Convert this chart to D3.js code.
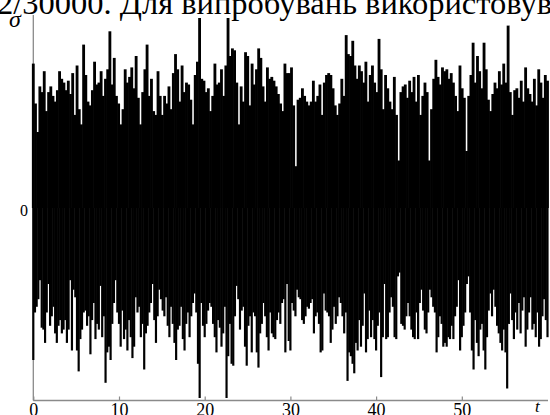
<!DOCTYPE html>
<html>
<head>
<meta charset="utf-8">
<script src="https://cdn.jsdelivr.net/npm/d3@7"></script>
<style>
  html, body { margin: 0; padding: 0; background: #fff; }
  svg { display: block; }
</style>
</head>
<body>
<svg id="chart" width="550" height="415"></svg>
<script>
// ---- data ----
const headerText = "2/30000. Для випробувань використовув";
const tMax = 60;
const xTickValues = [0, 10, 20, 30, 40, 50];
const yTickValues = [0];
const xLabel = "t";
const yLabel = "σ";

// upper envelope of the signal (positive peaks), evenly spaced over t = 0..60
const upperPeaks = [
  0.76,0.55,0.40,0.64,0.61,0.72,0.51,0.61,0.64,0.59,0.56,0.62,0.72,0.68,0.66,0.62,0.67,0.60,0.71,0.49,
  0.75,0.52,0.44,0.86,0.70,0.56,0.54,0.62,0.77,0.65,0.66,0.72,0.59,0.68,0.73,0.93,0.65,0.79,0.59,0.55,
  0.44,0.52,0.73,0.66,0.69,0.74,0.63,0.80,0.58,0.44,0.61,0.73,0.86,0.59,0.68,0.51,0.49,0.72,0.59,0.49,
  0.59,0.55,0.64,0.52,0.71,0.81,0.73,0.56,0.75,0.61,0.66,0.65,0.57,0.44,0.70,0.77,1.00,
  0.68,0.67,0.61,0.63,0.51,0.59,0.76,0.65,0.66,0.73,0.59,0.75,1.00,0.80,0.84,0.83,0.66,0.44,0.64,0.56,
  0.82,0.80,0.54,0.76,0.65,0.73,0.84,0.79,0.64,0.56,0.74,0.68,0.69,0.67,0.64,0.60,0.55,0.51,0.76,0.71,
  0.71,0.74,0.54,0.22,0.57,0.58,0.63,0.59,0.56,0.54,0.56,0.67,0.56,0.59,0.65,0.49,0.66,0.70,0.71,0.70,
  0.63,0.54,0.49,0.55,0.68,0.59,0.91,0.81,0.80,0.88,0.75,0.68,0.75,0.72,0.66,0.77,0.56,0.70,
  0.75,0.66,0.61,0.89,0.73,0.52,0.70,0.63,0.56,0.52,0.69,0.49,0.25,0.61,0.64,0.65,0.58,0.67,0.61,0.69,
  0.56,0.70,0.49,0.59,0.66,0.61,0.25,0.52,0.68,0.78,0.69,0.65,0.74,0.72,0.73,0.68,0.71,0.66,0.59,0.51,
  0.75,0.63,0.58,0.30,0.59,0.70,0.87,0.66,0.80,0.72,0.63,0.87,0.73,0.57,0.51,0.60,0.66,0.63,0.72,0.65,
  0.76,0.66,0.96,0.61,0.49,0.62,0.63,0.58,0.67,0.56,0.74,0.63,0.60,0.56,0.68,0.54,0.73,0.66,0.58,0.70,0.67
];

// lower envelope of the signal (negative peaks), evenly spaced over t = 0..60
const lowerPeaks = [
  -0.80,-0.55,-0.52,-0.48,-0.38,-0.63,-0.64,-0.71,-0.55,-0.40,-0.62,-0.57,-0.52,-0.66,-0.71,-0.62,-0.59,-0.66,-0.64,-0.59,
  -0.71,-0.64,-0.38,-0.75,-0.43,-0.47,-0.75,-0.86,-0.69,-0.64,-0.55,-0.54,-0.62,-0.57,-0.77,-0.59,-0.50,-0.69,-0.61,-0.64,
  -0.41,-0.68,-0.57,-0.92,-0.76,-0.73,-0.80,-0.61,-0.50,-0.38,-0.55,-0.61,-0.73,-0.54,-0.69,-0.64,-0.75,-0.59,-0.68,-0.79,
  -0.73,-0.47,-0.55,-0.52,-0.68,-0.61,-0.85,-0.66,-0.62,-0.55,-0.50,-0.40,-0.59,-0.71,-0.57,-0.43,-0.48,-0.54,-0.57,-0.47,
  -0.62,-0.68,-0.52,-0.61,-0.71,-0.80,-0.64,-0.62,-0.52,-0.69,-0.75,-0.61,-0.55,-0.68,-0.57,-0.50,-0.45,-0.55,-0.82,-1.00,
  -0.50,-0.62,-0.68,-0.61,-0.54,-0.50,-0.52,-0.61,-0.68,-0.76,-0.59,-0.63,-0.73,-0.66,-0.52,-1.00,-0.78,-0.61,-0.82,-0.83,
  -0.57,-0.41,-0.48,-0.64,-0.54,-0.52,-0.73,-0.83,-0.62,-0.57,-0.76,-0.55,-0.57,-0.76,-0.84,-0.66,-0.61,-0.50,-0.57,-0.68,
  -0.75,-0.55,-0.66,-0.68,-0.69,-0.59,-0.55,-0.61,-0.50,-0.48,-0.76,-0.40,-0.70,-0.75,-0.50,-0.54,-0.57,-0.43,-0.47,-0.48,
  -0.59,-0.61,-0.57,-0.52,-0.53,-0.50,-0.48,-0.66,-0.57,-0.55,-0.61,-0.76,-0.75,-0.45,-0.54,-0.55,-0.57,-0.71,-0.64,-0.52,
  -0.61,-0.57,-0.47,-0.50,-0.57,-0.66,-0.55,-0.91,-0.76,-0.78,-0.82,-0.87,-0.71,-0.75,-0.59,-0.73,-0.62,-0.45,-0.76,-0.69,
  -0.54,-0.68,-0.59,
  -0.69,-0.75,-0.62,-0.55,-0.89,-0.68,-0.40,-0.69,-0.68,-0.55,-0.47,-0.52,-0.68,-0.69,-0.36,-0.34,-0.61,-0.62,-0.64,-0.57,
  -0.50,-0.57,-0.64,-0.68,-0.69,-0.55,-0.69,-0.50,-0.43,-0.54,-0.64,-0.66,-0.55,-0.43,-0.47,-0.52,-0.55,-0.76,-0.68,-0.57,
  -0.61,-0.73,-0.71,-0.73,-0.68,-0.69,-0.62,-0.69,-0.57,-0.52,-0.38,-0.75,-0.68,-0.62,-0.55,-0.40,-0.36,-0.55,-0.75,-0.85,
  -0.59,-0.71,-0.78,-0.64,-0.61,-0.75,-0.85,-0.68,-0.54,-0.45,-0.57,-0.43,-0.52,-0.62,-0.66,-0.71,-0.75,-0.64,-0.76,-0.95,
  -0.61,-0.45,-0.59,-0.69,-0.55,-0.64,-0.50,-0.66,-0.54,-0.47,-0.73,-0.64,-0.55,-0.47,-0.64,-0.61,-0.68,-0.55,-0.73,-0.69,
  -0.57,-0.48,-0.59,-0.68
];

// ---- drawing ----
const svg = d3.select("#chart");
const serif = "'Liberation Serif', 'Times New Roman', 'DejaVu Serif', serif";

const x = d3.scaleLinear().domain([0, tMax]).range([33.3, 547.5]);
const y = d3.scaleLinear().domain([-1, 1]).range([398, 18]);

// header text (cut off at top of picture)
svg.append("text")
  .attr("x", -3).attr("y", 14)
  .style("font-family", serif).style("font-size", "32.5px")
  .attr("fill", "#000")
  .text(headerText);

// axes lines
const axisColor = "#8a8a8a";
svg.append("line")
  .attr("x1", x(0)).attr("x2", x(0))
  .attr("y1", 15).attr("y2", 400.5)
  .attr("stroke", axisColor).attr("stroke-width", 1.3);
svg.append("line")
  .attr("x1", x(0)).attr("x2", 548)
  .attr("y1", 400.5).attr("y2", 400.5)
  .attr("stroke", axisColor).attr("stroke-width", 1.3);

// x ticks
const xAxis = d3.axisBottom(x).tickValues(xTickValues).tickFormat(d3.format("d")).tickSize(0).tickPadding(0);
const gx = svg.append("g").attr("transform", "translate(0,400.5)").call(xAxis);
gx.select(".domain").remove();
gx.selectAll(".tick line").remove();
gx.selectAll(".tick").append("line")
  .attr("y1", 0).attr("y2", -4)
  .attr("stroke", axisColor).attr("stroke-width", 1.2);
gx.selectAll(".tick text")
  .style("font-family", serif).style("font-size", "18px").attr("fill", "#000")
  .attr("dy", null).attr("y", 15);

// y ticks
const yAxis = d3.axisLeft(y).tickValues(yTickValues).tickFormat(d3.format("d")).tickSize(0).tickPadding(0);
const gy = svg.append("g").attr("transform", "translate(28,0)").call(yAxis);
gy.select(".domain").remove();
gy.selectAll(".tick line").remove();
gy.selectAll(".tick text")
  .style("font-family", serif).style("font-size", "16px").attr("fill", "#000")
  .attr("x", 0).attr("dy", "0.32em").attr("y", 2);

// axis labels
svg.append("text")
  .attr("x", 9).attr("y", 27)
  .style("font-family", serif).style("font-style", "italic").style("font-size", "24px")
  .attr("fill", "#000").text(yLabel);
svg.append("text")
  .attr("x", 535).attr("y", 412)
  .style("font-family", serif).style("font-style", "italic").style("font-size", "17px")
  .attr("fill", "#000").text(xLabel);

// signal: vertical strokes from 0 to each peak
function drawPeaks(values, cls) {
  const n = values.length;
  const dt = tMax / (n - 1);
  const w = (x(dt) - x(0)) * 1.3;
  svg.append("g").attr("class", cls)
    .selectAll("line").data(values).join("line")
    .attr("x1", (d, i) => x(i * dt)).attr("x2", (d, i) => x(i * dt))
    .attr("y1", y(0)).attr("y2", d => y(d))
    .attr("stroke", "#000").attr("stroke-width", w);
}
drawPeaks(upperPeaks, "upper");
drawPeaks(lowerPeaks, "lower");
</script>
</body>
</html>
